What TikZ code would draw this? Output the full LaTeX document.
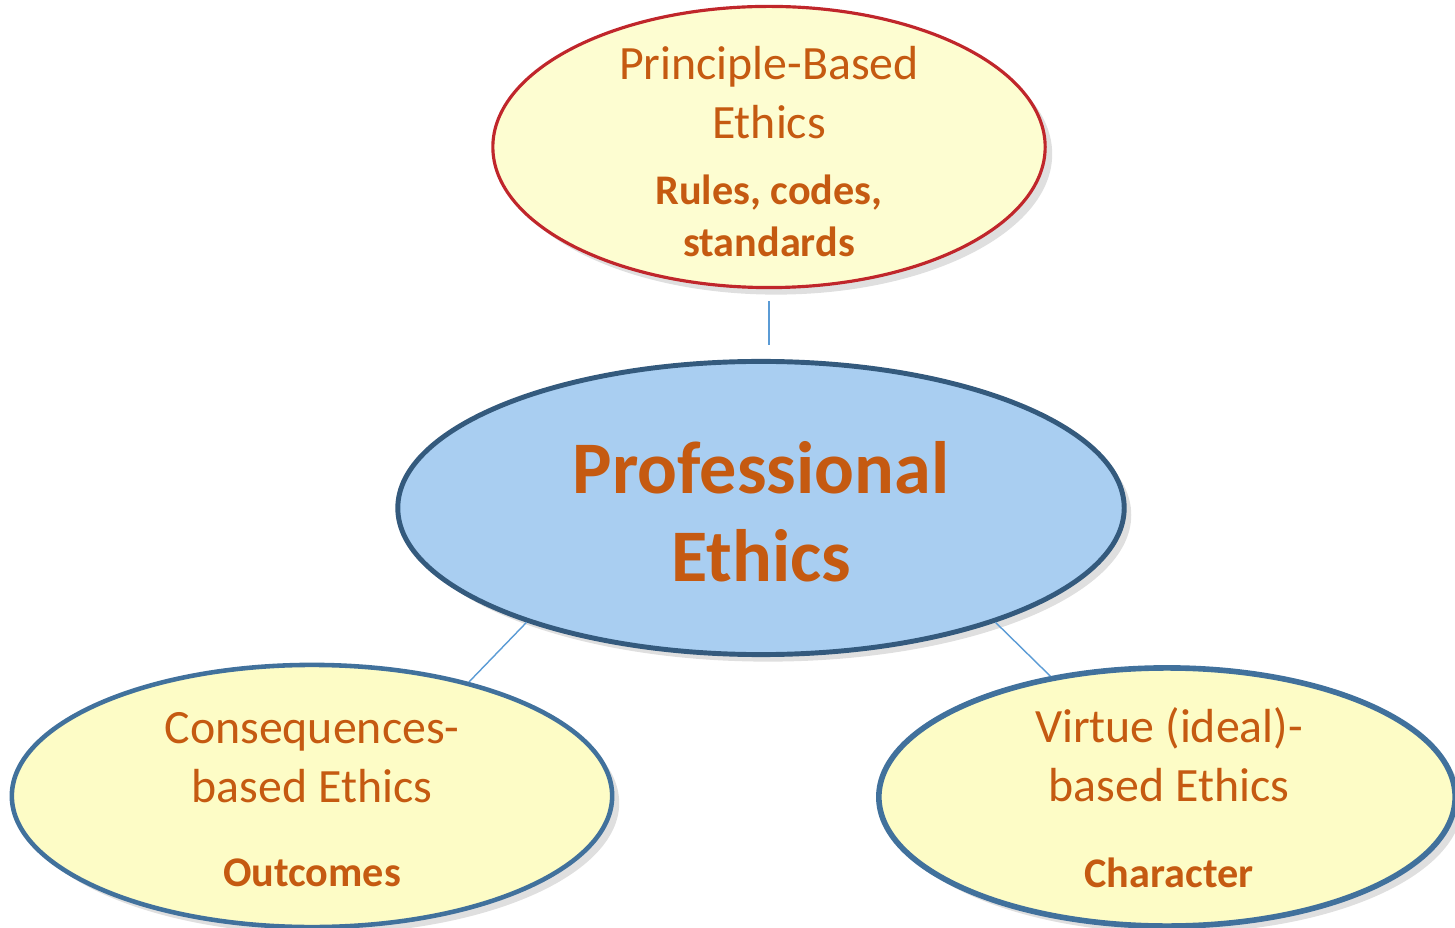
\documentclass[tikz,border=0pt]{standalone}
\usepackage{fontspec}
\setmainfont{Carlito}
\usetikzlibrary{shapes.geometric,shadows}

\definecolor{ethicsbrown}{HTML}{C55A11}
\definecolor{ethicsred}{HTML}{C0262B}
\definecolor{ethicsblue}{HTML}{41719C}
\definecolor{ethicsline}{HTML}{5B9BD5}
\definecolor{paleyellow}{HTML}{FDFCC6}
\definecolor{paleblue}{HTML}{A9CEF1}

\begin{document}
\begin{tikzpicture}[
        x=0.01cm, y=-0.01cm,
        bubble/.style={draw=ethicsblue, line width=1.3pt, fill=paleyellow, ellipse,
            drop shadow={opacity=0.25, shadow xshift=2pt, shadow yshift=-2pt}},
        title/.style={text=ethicsbrown, align=center, inner sep=0pt,
            font=\fontsize{13.6}{16.8}\selectfont},
        keyword/.style={text=ethicsbrown, align=center, inner sep=0pt,
            font=\bfseries\fontsize{12}{14.8}\selectfont},
        link/.style={draw=ethicsline, line width=0.4pt},
    ]
    \useasboundingbox (0,0) rectangle (1455,928);

    % the four ellipses
    \node[bubble, draw=ethicsred, line width=0.9pt, fill=paleyellow!80!white,
        minimum width=5.52cm, minimum height=2.81cm] (principle) at (769,147) {};
    \node[bubble, draw=ethicsblue!80!black, line width=1.4pt, fill=paleblue,
        minimum width=7.26cm, minimum height=2.93cm] (prof) at (761,508) {};
    \node[bubble, minimum width=6.0cm, minimum height=2.62cm] (cons) at (312,796) {};
    \node[bubble, line width=1.6pt, minimum width=5.76cm, minimum height=2.58cm] (virtue) at (1167,797) {};

    % texts
    \node[title] (principle-t) at (769,93) {Principle-Based\\Ethics};
    \node[keyword] (principle-k) at (769,216) {Rules, codes,\\standards};
    \node[title, font=\bfseries\fontsize{21.1}{25}\selectfont] (prof-t) at (761,512) {Professional\\Ethics};
    \node[title] (cons-t) at (312,758) {Consequences-\\based Ethics};
    \node[keyword] (cons-k) at (312,873) {Outcomes};
    \node[title] (virtue-t) at (1169,755) {Virtue (ideal)-\\based Ethics};
    \node[keyword] (virtue-k) at (1169,873) {Character};

    % connectors
    \coordinate (top-a) at ([yshift=-0.12cm]principle.south);
    \coordinate (top-b) at ([yshift=0.14cm]top-a |- prof.north);
    \draw[link] (top-a) -- (top-b);
    \draw[link] (prof.206) -- (cons.36);
    \draw[link] (prof.-26) -- (virtue.134);
\end{tikzpicture}
\end{document}
